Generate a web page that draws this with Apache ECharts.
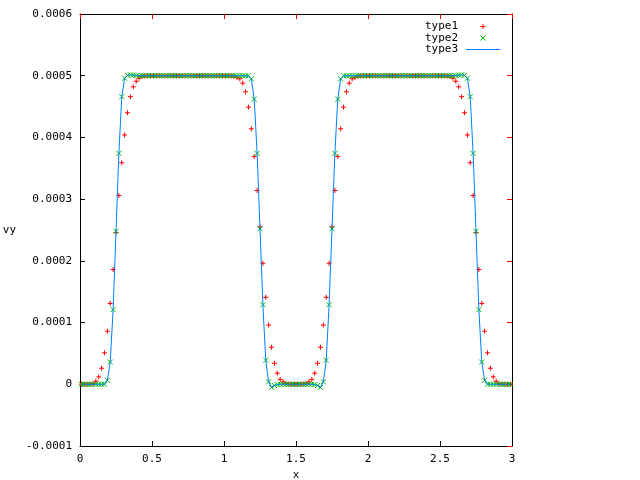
<!DOCTYPE html>
<html><head><meta charset="utf-8">
<script src="https://cdn.jsdelivr.net/npm/echarts@6/dist/echarts.min.js"></script>
<style>html,body{margin:0;background:#fff}#c{width:640px;height:480px}</style>
</head><body><div id="c"></div>
<script>
// sample positions (cell centres)
const xs = [
0.01,0.03,0.05,0.07,0.09,0.11,0.13,0.15,0.17,0.19,
0.21,0.23,0.25,0.27,0.29,0.31,0.33,0.35,0.37,0.39,
0.41,0.43,0.45,0.47,0.49,0.51,0.53,0.55,0.57,0.59,
0.61,0.63,0.65,0.67,0.69,0.71,0.73,0.75,0.77,0.79,
0.81,0.83,0.85,0.87,0.89,0.91,0.93,0.95,0.97,0.99,
1.01,1.03,1.05,1.07,1.09,1.11,1.13,1.15,1.17,1.19,
1.21,1.23,1.25,1.27,1.29,1.31,1.33,1.35,1.37,1.39,
1.41,1.43,1.45,1.47,1.49,1.51,1.53,1.55,1.57,1.59,
1.61,1.63,1.65,1.67,1.69,1.71,1.73,1.75,1.77,1.79,
1.81,1.83,1.85,1.87,1.89,1.91,1.93,1.95,1.97,1.99,
2.01,2.03,2.05,2.07,2.09,2.11,2.13,2.15,2.17,2.19,
2.21,2.23,2.25,2.27,2.29,2.31,2.33,2.35,2.37,2.39,
2.41,2.43,2.45,2.47,2.49,2.51,2.53,2.55,2.57,2.59,
2.61,2.63,2.65,2.67,2.69,2.71,2.73,2.75,2.77,2.79,
2.81,2.83,2.85,2.87,2.89,2.91,2.93,2.95,2.97,2.99];

const type1 = [
0,0,0,0.003e-4,0.01e-4,0.05e-4,0.12e-4,0.26e-4,0.51e-4,0.86e-4,
1.31e-4,1.86e-4,2.46e-4,3.06e-4,3.59e-4,4.04e-4,4.40e-4,4.66e-4,4.82e-4,4.91e-4,
4.96e-4,4.985e-4,4.995e-4,5e-4,5e-4,5e-4,5e-4,5e-4,5e-4,5e-4,
5e-4,5e-4,5e-4,5e-4,5e-4,5e-4,5e-4,5e-4,5e-4,5e-4,
5e-4,5e-4,5e-4,5e-4,5e-4,5e-4,5e-4,5e-4,5e-4,5e-4,
5e-4,5e-4,4.995e-4,4.99e-4,4.97e-4,4.95e-4,4.88e-4,4.74e-4,4.49e-4,4.14e-4,
3.69e-4,3.14e-4,2.55e-4,1.96e-4,1.41e-4,0.96e-4,0.60e-4,0.34e-4,0.18e-4,0.08e-4,
0.04e-4,0.015e-4,0.005e-4,0,0,0,0,0.005e-4,0.015e-4,0.04e-4,
0.08e-4,0.18e-4,0.34e-4,0.60e-4,0.96e-4,1.41e-4,1.96e-4,2.55e-4,3.14e-4,3.69e-4,
4.14e-4,4.49e-4,4.74e-4,4.88e-4,4.95e-4,4.97e-4,4.99e-4,4.995e-4,5e-4,5e-4,
5e-4,5e-4,5e-4,5e-4,5e-4,5e-4,5e-4,5e-4,5e-4,5e-4,
5e-4,5e-4,5e-4,5e-4,5e-4,5e-4,5e-4,5e-4,5e-4,5e-4,
5e-4,5e-4,5e-4,5e-4,5e-4,5e-4,5e-4,4.995e-4,4.985e-4,4.96e-4,
4.91e-4,4.82e-4,4.66e-4,4.40e-4,4.04e-4,3.59e-4,3.06e-4,2.46e-4,1.86e-4,1.31e-4,
0.86e-4,0.51e-4,0.26e-4,0.12e-4,0.05e-4,0.01e-4,0.003e-4,0,0,0];

const type2 = [
0,0,0,0,0,0,0,0,0,0.065e-4,
0.36e-4,1.21e-4,2.48e-4,3.74e-4,4.66e-4,4.96e-4,5.005e-4,5.015e-4,5.01e-4,5.003e-4,
5e-4,5e-4,5e-4,5e-4,5e-4,5e-4,5e-4,5e-4,5e-4,5e-4,
5e-4,5e-4,5e-4,5e-4,5e-4,5e-4,5e-4,5e-4,5e-4,5e-4,
5e-4,5e-4,5e-4,5e-4,5e-4,5e-4,5e-4,5e-4,5e-4,5e-4,
5e-4,5e-4,5e-4,5e-4,5e-4,5e-4,5e-4,5e-4,5e-4,4.95e-4,
4.62e-4,3.74e-4,2.52e-4,1.29e-4,0.39e-4,0.04e-4,-0.05e-4,-0.02e-4,-0.005e-4,0,
0,0,0,0,0,0,0,0,0,0,
0,-0.005e-4,-0.02e-4,-0.05e-4,0.04e-4,0.39e-4,1.29e-4,2.52e-4,3.74e-4,4.62e-4,
4.95e-4,5e-4,5e-4,5e-4,5e-4,5e-4,5e-4,5e-4,5e-4,5e-4,
5e-4,5e-4,5e-4,5e-4,5e-4,5e-4,5e-4,5e-4,5e-4,5e-4,
5e-4,5e-4,5e-4,5e-4,5e-4,5e-4,5e-4,5e-4,5e-4,5e-4,
5e-4,5e-4,5e-4,5e-4,5e-4,5e-4,5e-4,5e-4,5e-4,5e-4,
5.003e-4,5.01e-4,5.015e-4,5.005e-4,4.96e-4,4.66e-4,3.74e-4,2.48e-4,1.21e-4,0.36e-4,
0.065e-4,0,0,0,0,0,0,0,0,0];

const type3 = [
0,0,0,0,0,0,0,0,0,0.065e-4,
0.36e-4,1.21e-4,2.48e-4,3.74e-4,4.66e-4,4.96e-4,5.005e-4,5.015e-4,5.01e-4,5.003e-4,
5e-4,5e-4,5e-4,5e-4,5e-4,5e-4,5e-4,5e-4,5e-4,5e-4,
5e-4,5e-4,5e-4,5e-4,5e-4,5e-4,5e-4,5e-4,5e-4,5e-4,
5e-4,5e-4,5e-4,5e-4,5e-4,5e-4,5e-4,5e-4,5e-4,5e-4,
5e-4,5e-4,5e-4,5e-4,5e-4,5e-4,5e-4,5e-4,5e-4,4.95e-4,
4.62e-4,3.74e-4,2.52e-4,1.29e-4,0.39e-4,0.04e-4,-0.05e-4,-0.02e-4,-0.005e-4,0,
0,0,0,0,0,0,0,0,0,0,
0,-0.005e-4,-0.02e-4,-0.05e-4,0.04e-4,0.39e-4,1.29e-4,2.52e-4,3.74e-4,4.62e-4,
4.95e-4,5e-4,5e-4,5e-4,5e-4,5e-4,5e-4,5e-4,5e-4,5e-4,
5e-4,5e-4,5e-4,5e-4,5e-4,5e-4,5e-4,5e-4,5e-4,5e-4,
5e-4,5e-4,5e-4,5e-4,5e-4,5e-4,5e-4,5e-4,5e-4,5e-4,
5e-4,5e-4,5e-4,5e-4,5e-4,5e-4,5e-4,5e-4,5e-4,5e-4,
5.003e-4,5.01e-4,5.015e-4,5.005e-4,4.96e-4,4.66e-4,3.74e-4,2.48e-4,1.21e-4,0.36e-4,
0.065e-4,0,0,0,0,0,0,0,0,0];

const seriesNames = ['type1','type2','type3'];
const xTicks = {min:0, max:3, interval:0.5};
const yTicks = {min:-0.0001, max:0.0006, interval:0.0001};

const F = 'DejaVu Sans Mono';
const pair = (ys) => xs.map((x,i)=>[x, ys[i]]);
const PLUS = 'path://M2.5,0L2.5,5M0,2.5L5,2.5';
const CROSS = 'path://M0,0L5,5M5,0L0,5';
const BAR = 'path://M0,0L34,0L34,1L0,1Z';
const RED = '#ff0000', GREEN = '#00c000', BLUE = '#0080ff';

const axLine = () => ({show:true, onZero:false, lineStyle:{color:'#000', width:1}});
const axTick = () => ({show:true, inside:true, length:5, lineStyle:{color:'#000', width:1}});

const chart = echarts.init(document.getElementById('c'), null, {renderer:'canvas'});
chart.setOption({
  animation:false,
  backgroundColor:'#fff',
  grid:{left:80, top:14, width:432, height:432, outerBoundsMode:'none'},
  legend:{
    orient:'vertical', right:135, top:16, align:'right',
    itemWidth:34, itemHeight:5, itemGap:0.5,
    textStyle:{fontFamily:F, fontSize:11, color:'#000', lineHeight:9, padding:[0,3,0,0]},
    data:[
      {name:seriesNames[0], icon:PLUS, itemStyle:{color:'rgba(0,0,0,0)', borderColor:RED, borderWidth:1}},
      {name:seriesNames[1], icon:CROSS, itemStyle:{color:'rgba(0,0,0,0)', borderColor:GREEN, borderWidth:1}},
      {name:seriesNames[2], icon:BAR, itemStyle:{color:BLUE, borderWidth:0}}
    ]
  },
  xAxis:[
    {type:'value', min:xTicks.min, max:xTicks.max, interval:xTicks.interval,
     name:'x', nameLocation:'middle', nameGap:20,
     nameTextStyle:{fontFamily:F, fontSize:11, color:'#000'},
     axisLine:axLine(), axisTick:axTick(), splitLine:{show:false},
     axisLabel:{fontFamily:F, fontSize:11, color:'#000', margin:8,
       formatter:v=>String(+v.toFixed(2))}},
    {type:'value', position:'top', min:xTicks.min, max:xTicks.max, interval:xTicks.interval,
     axisLine:{onZero:false, lineStyle:{color:'#000'}},
     axisTick:{show:true, inside:true, length:5, lineStyle:{color:'#f00'}},
     splitLine:{show:false}, axisLabel:{show:false}}
  ],
  yAxis:[
    {type:'value', min:yTicks.min, max:yTicks.max, interval:yTicks.interval,
     name:'vy', nameLocation:'middle', nameGap:64, nameRotate:0,
     nameTextStyle:{fontFamily:F, fontSize:11, color:'#000', padding:[12,0,0,0]},
     axisLine:axLine(), axisTick:axTick(), splitLine:{show:false},
     axisLabel:{fontFamily:F, fontSize:11, color:'#000', margin:8,
       formatter:v=>Math.abs(v)<1e-12?'0':v.toFixed(4)}},
    {type:'value', position:'right', min:yTicks.min, max:yTicks.max, interval:yTicks.interval,
     axisLine:{show:true, onZero:false, lineStyle:{color:'#000'}},
     axisTick:{show:true, inside:true, length:5, lineStyle:{color:'#f00'}},
     splitLine:{show:false}, axisLabel:{show:false}}
  ],
  series:[
    {name:seriesNames[0], type:'scatter', data:pair(type1), symbol:PLUS, symbolSize:5,
     itemStyle:{color:'rgba(0,0,0,0)', borderColor:RED, borderWidth:1, opacity:1},
     emphasis:{disabled:true}},
    {name:seriesNames[1], type:'scatter', data:pair(type2), symbol:CROSS, symbolSize:5,
     itemStyle:{color:'rgba(0,0,0,0)', borderColor:GREEN, borderWidth:1, opacity:1},
     emphasis:{disabled:true}},
    {name:seriesNames[2], type:'line', data:pair(type3), symbol:'none', showSymbol:false,
     lineStyle:{color:BLUE, width:1}, itemStyle:{color:BLUE},
     emphasis:{disabled:true}}
  ]
});
</script></body></html>
